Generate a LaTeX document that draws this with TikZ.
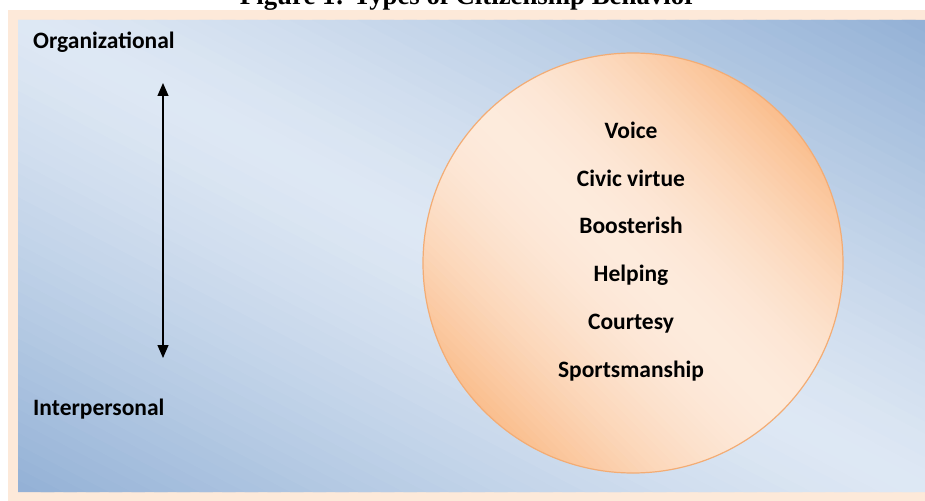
\documentclass[tikz,border=0pt]{standalone}
\usepackage{fontspec}
\setmainfont{Carlito}
\newfontfamily\captionfont{Liberation Serif}
\usetikzlibrary{arrows.meta}
\definecolor{framepeach}{RGB}{253,233,217}
\definecolor{paleblue}{RGB}{222,232,244}
\definecolor{deepblue}{RGB}{147,177,214}
\definecolor{palepeach}{RGB}{253,235,221}
\definecolor{deeppeach}{RGB}{250,190,142}
\definecolor{edgepeach}{RGB}{243,172,116}
\tikzset{
	kind/.style = {font=\bfseries\fontsize{23.5}{28}\selectfont, inner sep=0pt, anchor=base},
	axis end/.style = {font=\bfseries\fontsize{23.5}{28}\selectfont, inner sep=0pt, anchor=base west}
}

\begin{document}
\begin{tikzpicture}[x=1pt, y=-1pt]
			\useasboundingbox (0, 0) rectangle (925, 500);
			% caption, cut off by the page
			\node[font=\captionfont\bfseries\fontsize{26.8}{30}\selectfont, inner sep=0pt, anchor=base] (caption) at (468, 5) {Figure 1: Types of Citizenship Behavior};
			% frame
			\fill[framepeach] (8, 10) rectangle (935, 510);
			% background, light along the falling diagonal
			\begin{scope}[shift={(18, 20)}, x=907pt, y=-472pt]
				\clip (0, 0) rectangle (1, 1);
				\foreach \u in {-1, -0.975, ..., 0.99} {
					\pgfmathtruncatemacro\lit{100*(1 - abs(\u + 0.0125)^1.3)}
					\fill[paleblue!\lit!deepblue] (\u, 0) -- (\u + 0.04, 0) -- (\u + 1.04, 1) -- (\u + 1, 1) -- cycle;
				}
			\end{scope}
			% left hand: the scale
			\node[axis end] (org) at (33, 49) {Organizational};
			\node[axis end] (inter) at (33, 415) {Interpersonal};
			\coordinate (scale top) at (163, 83);
			\coordinate (scale bottom) at (163, 358);
			\draw[line width = 1.2pt, {Triangle[width=11pt, length=13pt]}-{Triangle[width=11pt, length=13pt]}] (scale top) -- (scale bottom);
			% right hand: the circle
			\begin{scope}[shift={(423, 53)}, x=420pt, y=-420pt]
				\clip (0.5, 0.5) circle (210pt);
				\foreach \u in {-0.72, -0.7, ..., 0.71} {
					\pgfmathtruncatemacro\lit{max(0, 100*(1 - (abs(\u + 0.01)/0.707)^1.7))}
					\fill[palepeach!\lit!deeppeach] (\u, 0) -- (\u + 0.03, 0) -- (\u + 1.03, 1) -- (\u + 1, 1) -- cycle;
				}
			\end{scope}
			\draw[edgepeach, line width = 1.2pt] (633, 263) circle (210pt);
			\node[kind] (voice) at (631, 138) {Voice};
			\node[kind] (civic) at (631, 186) {Civic virtue};
			\node[kind] (booster) at (631, 233) {Boosterish};
			\node[kind] (helping) at (631, 281) {Helping};
			\node[kind] (courtesy) at (631, 329) {Courtesy};
			\node[kind] (sports) at (631, 377) {Sportsmanship};
		\end{tikzpicture}
\end{document}
